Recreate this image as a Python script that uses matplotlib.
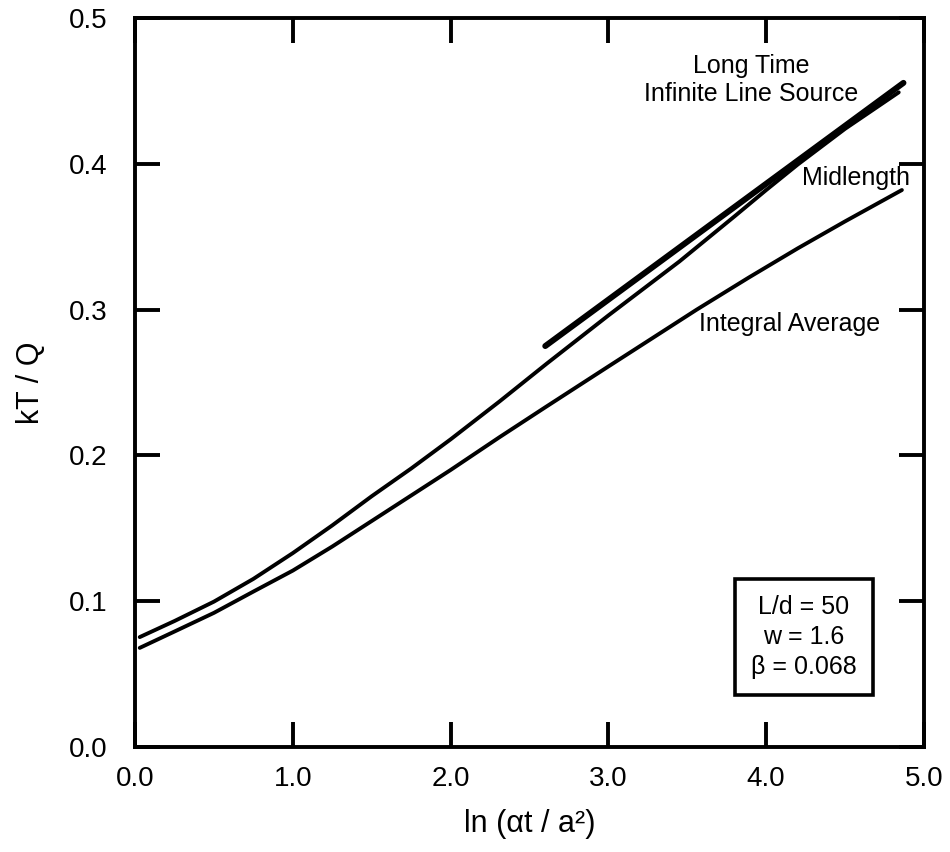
import matplotlib
matplotlib.use("Agg")
import matplotlib.pyplot as plt

plt.rcParams['font.family'] = ['Liberation Sans', 'DejaVu Sans']

# courbe "Midlength"
x_mid = [0.03, 0.25, 0.5, 0.75, 1.0, 1.25, 1.5, 1.75, 2.0, 2.31, 2.61, 3.0, 3.45, 3.8, 4.0, 4.2, 4.5, 4.84]
y_mid = [0.0754, 0.0864, 0.0997, 0.1153, 0.133, 0.152, 0.172, 0.191, 0.211, 0.237, 0.263, 0.296, 0.333, 0.364, 0.382, 0.3995, 0.424, 0.449]

# courbe "Integral Average"
x_int = [0.03, 0.25, 0.5, 0.75, 1.0, 1.25, 1.5, 1.75, 2.0, 2.31, 2.6, 3.0, 3.56, 3.89, 4.2, 4.5, 4.86]
y_int = [0.068, 0.0792, 0.092, 0.1066, 0.121, 0.1375, 0.155, 0.1725, 0.190, 0.2125, 0.233, 0.261, 0.300, 0.322, 0.342, 0.3605, 0.382]

# source linéique infinie, temps long
x_ls = [2.6, 4.87]
y_ls = [0.275, 0.4555]

x_ticks = [0.0, 1.0, 2.0, 3.0, 4.0, 5.0]
y_ticks = [0.0, 0.1, 0.2, 0.3, 0.4, 0.5]

fig = plt.figure(figsize=(9.5, 8.52), dpi=100)
ax = fig.add_axes([0.1421, 0.1232, 0.8305, 0.8557])

ax.plot(x_mid, y_mid, color='black', lw=2.8, solid_capstyle='round', solid_joinstyle='round')
ax.plot(x_int, y_int, color='black', lw=2.8, solid_capstyle='round', solid_joinstyle='round')
ax.plot(x_ls, y_ls, color='black', lw=4.3, solid_capstyle='round')

ax.set_xlim(0, 5)
ax.set_ylim(0, 0.5)
ax.set_xticks(x_ticks)
ax.set_yticks(y_ticks)
ax.set_xticklabels([f"{v:.1f}" for v in x_ticks])
ax.set_yticklabels([f"{v:.1f}" for v in y_ticks])
ax.tick_params(direction='in', length=18, width=2.8, top=True, right=True,
               labelsize=20)
ax.tick_params(axis='x', pad=14)
ax.tick_params(axis='y', pad=20)
for s in ax.spines.values():
    s.set_linewidth(2.8)

ax.set_xlabel("ln (αt / a²)", fontsize=22, labelpad=12)
ax.set_ylabel("kT / Q", fontsize=22, labelpad=16)

ax.text(3.905, 0.4575, "Long Time\nInfinite Line Source", fontsize=18,
        ha='center', va='center', multialignment='center')
ax.text(4.57, 0.390, "Midlength", fontsize=18, ha='center', va='center')
ax.text(3.576, 0.290, "Integral Average", fontsize=18, ha='left', va='center')
ax.text(4.24, 0.0754, "L/d = 50\nw = 1.6\nβ = 0.068", fontsize=18,
        ha='center', va='center', multialignment='center', linespacing=1.3,
        bbox=dict(boxstyle='square,pad=0.65', facecolor='white',
                  edgecolor='black', linewidth=2.6))

fig.savefig("out.png", dpi=100)
